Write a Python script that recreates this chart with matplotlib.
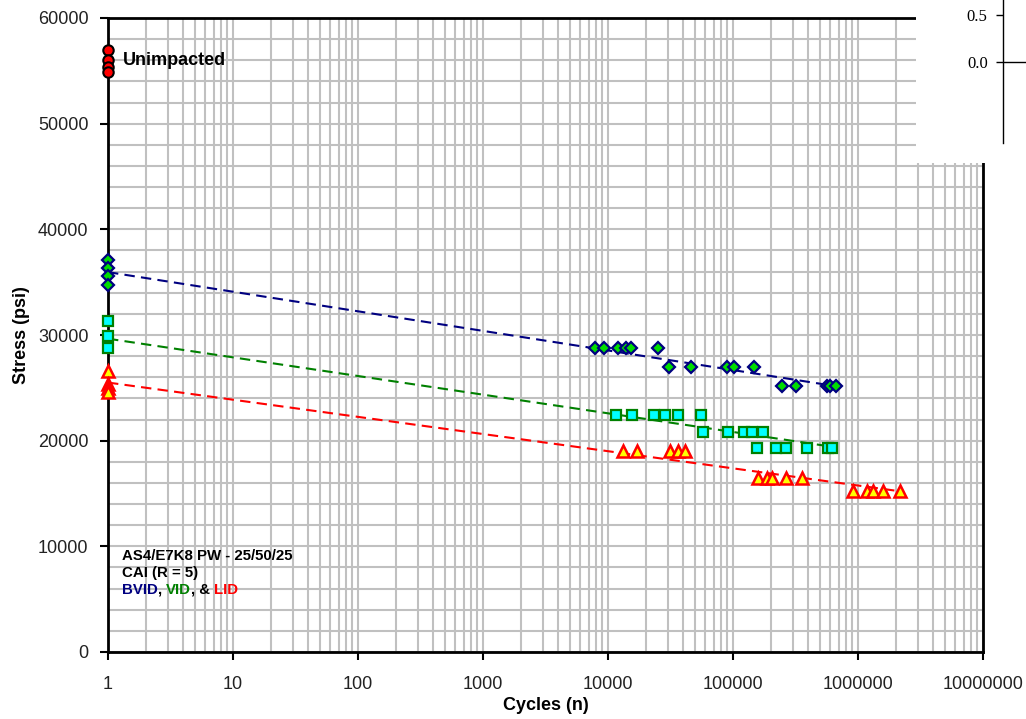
import numpy as np
import matplotlib
matplotlib.use('Agg')
import matplotlib.pyplot as plt
from matplotlib.ticker import FixedLocator, FuncFormatter, MultipleLocator, NullFormatter
from matplotlib.patches import Rectangle

plt.rcParams['font.family'] = ['Liberation Sans', 'DejaVu Sans']

# data
unimp_n = [1, 1, 1, 1]
unimp_s = [57000, 56000, 55400, 54900]

bvid_n = [1, 1, 1, 1, 7900, 9300, 12000, 14000, 15200, 25300,
          31000, 46000, 89000, 102000, 147000,
          245000, 319000, 562000, 600000, 667000]
bvid_s = [37100, 36300, 35600, 34700, 28800, 28800, 28800, 28800, 28800, 28800,
          27000, 27000, 27000, 27000, 27000,
          25200, 25200, 25200, 25200, 25200]

vid_n = [1, 1, 1, 11500, 15700, 23300, 28600, 36100, 55200,
         57900, 91700, 123000, 141000, 175000,
         157000, 221000, 266000, 389000, 578000, 619000]
vid_s = [31300, 29900, 28800, 22400, 22400, 22400, 22400, 22400, 22400,
         20800, 20800, 20800, 20800, 20800,
         19300, 19300, 19300, 19300, 19300, 19300]

lid_n = [1, 1, 1, 1, 13200, 17100, 31300, 36300, 41300,
         159000, 186000, 206000, 266000, 358000,
         906000, 1174000, 1325000, 1577000, 2168000]
lid_s = [26600, 25400, 25000, 24600, 19000, 19000, 19000, 19000, 19000,
         16500, 16500, 16500, 16500, 16500,
         15200, 15200, 15200, 15200, 15200]

# trend line end points
bvid_fit_n = [1, 670000]
bvid_fit_s = [35950, 25150]
vid_fit_n = [1, 640000]
vid_fit_s = [29650, 19400]
lid_fit_n = [1, 2200000]
lid_fit_s = [25500, 15200]

decades = [1, 10, 100, 1000, 10000, 100000, 1000000, 10000000]

fig = plt.figure(figsize=(10.26, 7.19), dpi=100)
ax = fig.add_axes([108/1026, 67/719, 875/1026, 634/719])

ax.set_xscale('log')
ax.set_xlim(1, 1e7)
ax.set_ylim(0, 60000)

ax.xaxis.set_major_locator(FixedLocator(decades))
ax.xaxis.set_major_formatter(FuncFormatter(lambda v, p: '%d' % round(v)))
ax.xaxis.set_minor_locator(FixedLocator([d * k for d in decades[:-1] for k in range(2, 10)]))
ax.xaxis.set_minor_formatter(NullFormatter())
ax.yaxis.set_major_locator(MultipleLocator(10000))
ax.yaxis.set_minor_locator(MultipleLocator(2000))

ax.grid(True, which='both', color='#c0c0c0', linewidth=1.5, zorder=0)
ax.set_axisbelow(True)
ax.tick_params(which='major', direction='out', length=6, width=1.5, labelsize=13,
               labelcolor='#222222', pad=8)
ax.tick_params(axis='x', which='major', pad=11)
ax.tick_params(which='minor', length=0)
for s in ax.spines.values():
    s.set_linewidth(2)

ax.plot(bvid_fit_n, bvid_fit_s, '--', color='#000080', lw=1.5, dashes=(5, 3), zorder=2)
ax.plot(vid_fit_n, vid_fit_s, '--', color='#008000', lw=1.5, dashes=(5, 3), zorder=2)
ax.plot(lid_fit_n, lid_fit_s, '--', color='#ff0000', lw=1.5, dashes=(5, 3), zorder=2)

ax.plot(unimp_n, unimp_s, 'o', ms=7.5, mfc='#ff0000', mec='black', mew=1.5, clip_on=False, zorder=4)
ax.plot(bvid_n, bvid_s, 'D', ms=6.5, mfc='#00dd00', mec='#000080', mew=1.6, clip_on=False, zorder=4)
ax.plot(vid_n, vid_s, 's', ms=7.5, mfc='#00ffff', mec='#008000', mew=1.6, clip_on=False, zorder=4)
ax.plot(lid_n, lid_s, '^', ms=8, mfc='#ffff00', mec='#ff0000', mew=1.8, clip_on=False, zorder=4)

ax.set_xlabel('Cycles (n)', fontsize=13, fontweight='bold', labelpad=3)
ax.set_ylabel('Stress (psi)', fontsize=13, fontweight='bold', labelpad=6)

ax.text(1.32, 56000, 'Unimpacted', fontsize=13, fontweight='bold', va='center')

ax.text(1.29, 9080, 'AS4/E7K8 PW - 25/50/25', fontsize=10.8, fontweight='bold', va='center')
ax.text(1.29, 7480, 'CAI (R = 5)', fontsize=10.8, fontweight='bold', va='center')

# coloured last line, pieces placed one after another
fig.canvas.draw()
renderer = fig.canvas.get_renderer()
parts = [('BVID', '#000080'), (', ', 'black'), ('VID', '#008000'), (', & ', 'black'), ('LID', '#ff0000')]
x0 = ax.transData.transform((1.29, 5870))
xpix = x0[0]
for txt, col in parts:
    t = fig.text(xpix / fig.bbox.width, x0[1] / fig.bbox.height, txt, fontsize=10.8,
                 fontweight='bold', color=col, va='center')
    xpix += t.get_window_extent(renderer).width

# white box over the top right corner with a stray axis
fig.patches.append(Rectangle((916/1026, 556/719), 110/1026, 163/719, transform=fig.transFigure,
                             facecolor='white', edgecolor='none', zorder=5))
ax2 = fig.add_axes([1003/1026, 576/719, 23/1026, 143/719], zorder=6)
ax2.set_facecolor('none')
ax2.set_xlim(0, 1)
ax2.set_ylim(-0.862, 0.66)
ax2.axhline(0, color='black', lw=1)
for k in ['top', 'right', 'bottom']:
    ax2.spines[k].set_visible(False)
ax2.spines['left'].set_linewidth(1)
ax2.set_xticks([])
ax2.set_yticks([0.0, 0.5])
ax2.set_yticklabels(['0.0', '0.5'], family=['Liberation Serif', 'DejaVu Serif'], fontsize=12)
ax2.tick_params(axis='y', direction='out', length=5, width=1, pad=6)

fig.savefig('out.png', dpi=100)
